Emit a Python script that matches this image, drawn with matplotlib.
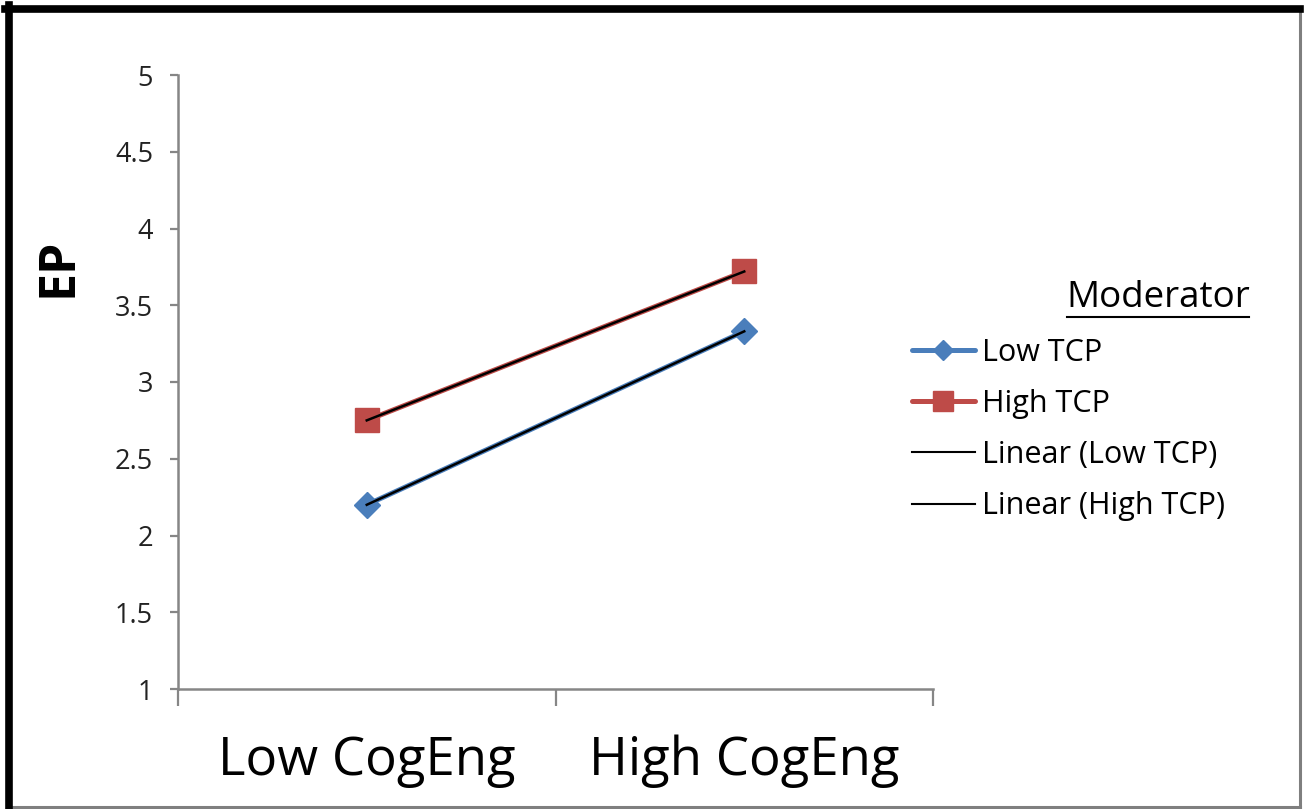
import numpy as np
import matplotlib
matplotlib.use("Agg")
import matplotlib.pyplot as plt
from matplotlib.lines import Line2D

plt.rcParams['font.family'] = ['Open Sans', 'DejaVu Sans']

categories = ["Low CogEng", "High CogEng"]
low_tcp = [2.2, 3.33]
high_tcp = [2.75, 3.72]
y_ticks = [1, 1.5, 2, 2.5, 3, 3.5, 4, 4.5, 5]
y_tick_labels = ["1", "1.5", "2", "2.5", "3", "3.5", "4", "4.5", "5"]

blue = "#4A7EBB"
red = "#BE4B48"
axis_grey = "#868686"

fig = plt.figure(figsize=(13.04, 8.09), dpi=100)
ax = fig.add_axes([178 / 1304, 1 - 689 / 809, (933 - 178) / 1304, (689 - 75) / 809])

x = np.arange(len(categories))
ax.plot(x, low_tcp, color=blue, lw=3.6, marker="D", ms=13, mec=blue, mfc=blue,
        solid_capstyle="round", zorder=3)
ax.plot(x, high_tcp, color=red, lw=3.6, marker="s", ms=17, mec=red, mfc=red,
        solid_capstyle="round", zorder=3)

# linear trend lines for each series
for series in (low_tcp, high_tcp):
    slope, intercept = np.polyfit(x, series, 1)
    ax.plot(x, slope * x + intercept, color="black", lw=1.8, zorder=4)

ax.set_xlim(-0.5, 1.5)
ax.set_ylim(1, 5)
ax.set_yticks(y_ticks)
ax.set_yticklabels(y_tick_labels, fontsize=19.5, color="#222222")
ax.tick_params(axis="y", direction="out", length=6, width=1.6, color=axis_grey, pad=12)

ax.set_xticks([-0.5, 0.5, 1.5])
ax.set_xticklabels(["", "", ""])
ax.set_xticks(x, minor=True)
ax.set_xticklabels(categories, minor=True, fontsize=38)
ax.tick_params(axis="x", which="major", direction="out", length=12, width=1.6, color=axis_grey)
ax.tick_params(axis="x", which="minor", length=0, pad=33)

for side in ("top", "right"):
    ax.spines[side].set_visible(False)
for side in ("left", "bottom"):
    ax.spines[side].set_color(axis_grey)
    ax.spines[side].set_linewidth(1.8)

fig.text(59 / 1304, 1 - 267 / 809, "EP", rotation=90, fontsize=36, fontweight="bold",
         ha="center", va="center")

handles = [
    Line2D([], [], color=blue, lw=3.6, marker="D", ms=10, solid_capstyle="round"),
    Line2D([], [], color=red, lw=3.6, marker="s", ms=15, solid_capstyle="round"),
    Line2D([], [], color="black", lw=1.5),
    Line2D([], [], color="black", lw=1.5),
]
labels = ["Low TCP", "High TCP", "Linear (Low TCP)", "Linear (High TCP)"]
fig.legend(handles, labels, loc="upper left", bbox_to_anchor=(912 / 1304, 1 - 338 / 809),
           frameon=False, fontsize=22, handlelength=2.05, handletextpad=0.23,
           labelspacing=0.69, borderaxespad=0, borderpad=0)

fig.text(1158 / 1304, 1 - 298 / 809, "Moderator", fontsize=26.5, ha="center", va="center")
fig.add_artist(Line2D([1067 / 1304, 1249 / 1304], [1 - 317 / 809, 1 - 317 / 809],
                      color="black", lw=1.5, transform=fig.transFigure))

# outer frame: heavy on top/left, light on bottom/right
fig.add_artist(Line2D([1299.5 / 1304, 1299.5 / 1304], [1 - 9 / 809, 1 - 807 / 809],
                      color="#7f7f7f", lw=2.2, transform=fig.transFigure))
fig.add_artist(Line2D([9 / 1304, 1300 / 1304], [1 - 806.5 / 809, 1 - 806.5 / 809],
                      color="#7f7f7f", lw=2.2, transform=fig.transFigure))
fig.add_artist(Line2D([8.5 / 1304, 8.5 / 1304], [1 - 5 / 809, 1 - 808 / 809],
                      color="black", lw=5.5, transform=fig.transFigure))
fig.add_artist(Line2D([5 / 1304, 1300 / 1304], [1 - 8.5 / 809, 1 - 8.5 / 809],
                      color="black", lw=5.5, transform=fig.transFigure))

fig.savefig("out.png", dpi=100)
